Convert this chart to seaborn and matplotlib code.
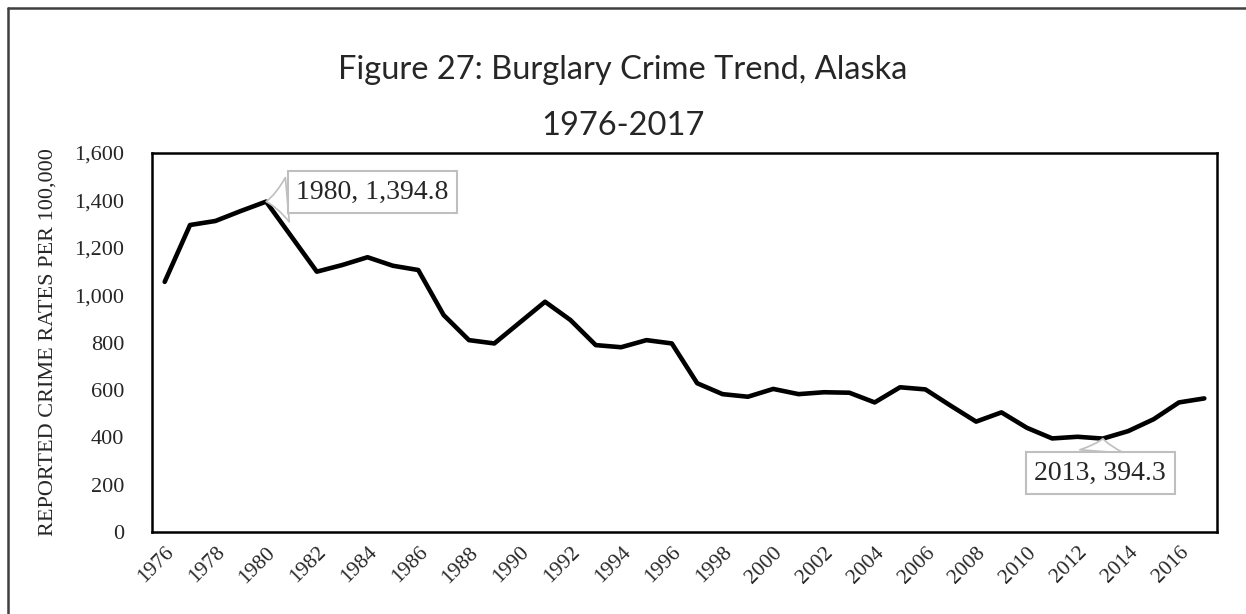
import pandas as pd
import numpy as np
import matplotlib
matplotlib.use('Agg')
import matplotlib.pyplot as plt
import seaborn as sns
from matplotlib.lines import Line2D

years = list(range(1976, 2018))
rates = [1056, 1296, 1313, 1355, 1394.8, 1247, 1099, 1127, 1160, 1124, 1106, 916,
         810, 796, 884, 972, 895, 789, 780, 810, 796, 628, 582, 571, 604, 582,
         590, 588, 547, 611, 602, 533, 466, 505, 440, 395, 402, 394.3, 426, 476,
         547, 564]
title_line1 = 'Figure 27: Burglary Crime Trend, Alaska'
title_line2 = '1976-2017'
ylabel = 'REPORTED CRIME RATES PER 100,000'

df = pd.DataFrame({'year': years, 'rate': rates})

sns.set_style('white')
plt.rcParams['font.family'] = ['Liberation Serif', 'DejaVu Serif']

fig = plt.figure(figsize=(12.46, 6.14), dpi=100)
ax = fig.add_axes([152 / 1246, 1 - 532 / 614, (1217 - 152) / 1246, (532 - 153) / 614])

sns.lineplot(data=df, x='year', y='rate', ax=ax, color='black', linewidth=3.3)

ax.set_xlim(1975.5, 2017.5)
ax.set_ylim(0, 1600)
ax.set_yticks(range(0, 1601, 200))
ax.yaxis.set_major_formatter(matplotlib.ticker.FuncFormatter(lambda v, p: f'{int(v):,}'))
ax.set_xticks(years[::2])
ax.set_xticklabels([str(y) for y in years[::2]], rotation=45, ha='right',
                   rotation_mode='anchor', fontsize=15.5)
ax.tick_params(axis='y', labelsize=16, length=0, pad=20)
ax.tick_params(axis='x', length=0, pad=8)
ax.set_xlabel('')
ax.set_ylabel(ylabel, fontsize=16, labelpad=12)
for s in ax.spines.values():
    s.set_color('black')
    s.set_linewidth(1.8)

# callouts
box = dict(boxstyle='square,pad=0.3', fc='white', ec='#bfbfbf', lw=1.5)
arrow = dict(arrowstyle='wedge,tail_width=1.6,shrink_factor=0.4', fc='white', ec='#bfbfbf',
             lw=1.2, shrinkA=0, shrinkB=0)
ax.annotate('1980, 1,394.8', xy=(1980, 1394.8), xytext=(1984.2, 1435),
            ha='center', va='center', fontsize=20, bbox=box, arrowprops=arrow, zorder=5)
ax.annotate('2013, 394.3', xy=(2013, 394.3), xytext=(2012.9, 249),
            ha='center', va='center', fontsize=20, bbox=box, arrowprops=arrow, zorder=5)

fig.text(0.5, 1 - 70 / 614, title_line1, ha='center', va='center', fontsize=23.5,
         family=['Lato', 'DejaVu Sans'])
fig.text(0.5, 1 - 126 / 614, title_line2, ha='center', va='center', fontsize=23.5,
         family=['Lato', 'DejaVu Sans'])

# outer frame: only top and left edges are visible
fig.lines.append(Line2D([8 / 1246, 8 / 1246], [0, 1 - 8 / 614], transform=fig.transFigure,
                        color='#404040', lw=1.8))
fig.lines.append(Line2D([8 / 1246, 1], [1 - 8 / 614, 1 - 8 / 614], transform=fig.transFigure,
                        color='#404040', lw=1.8))

fig.savefig('out.png', dpi=100)
